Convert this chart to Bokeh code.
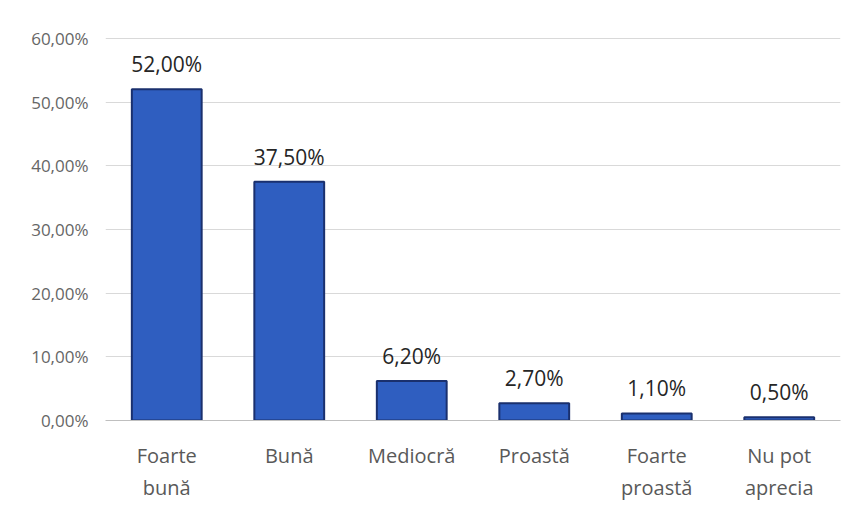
from bokeh.plotting import figure
from bokeh.models import ColumnDataSource, FixedTicker, Range1d, LabelSet
from bokeh.core.properties import value
from bokeh.embed import file_html
from bokeh.resources import INLINE

categories = ["Foarte\nbună", "Bună", "Mediocră", "Proastă", "Foarte\nproastă", "Nu pot\naprecia"]
values = [52.0, 37.5, 6.2, 2.7, 1.1, 0.5]
y_ticks = [0, 10, 20, 30, 40, 50, 60]

FONT = "Open Sans"

xs = list(range(len(categories)))
labels = [f"{v:.2f}".replace(".", ",") + "%" for v in values]
src = ColumnDataSource(dict(x=xs, top=values, label=labels))

p = figure(width=855, height=506, output_backend="svg", toolbar_location=None,
           x_range=Range1d(-0.5, len(categories) - 0.5), y_range=Range1d(0, 60.3),
           min_border_left=105, min_border_right=15, min_border_top=36, min_border_bottom=86)
p.outline_line_color = None
p.background_fill_color = "white"
p.border_fill_color = "white"

p.vbar(x="x", top="top", width=0.57, bottom=0, source=src,
       fill_color="#2F5EC0", line_color="#1A306E", line_width=2)

p.add_layout(LabelSet(x="x", y="top", text="label", source=src,
                      text_align="center", text_baseline="bottom", y_offset=11,
                      text_font=value(FONT), text_font_size="21px", text_color="#262626"))

p.xgrid.grid_line_color = None
p.ygrid.grid_line_color = "#D9D9D9"
p.ygrid.grid_line_width = 1
p.ygrid.ticker = FixedTicker(ticks=y_ticks)

p.yaxis.ticker = FixedTicker(ticks=y_ticks)
p.yaxis.major_label_overrides = {t: f"{t:.2f}".replace(".", ",") + "%" for t in y_ticks}
p.yaxis.axis_line_color = None
p.yaxis.major_tick_line_color = None
p.yaxis.minor_tick_line_color = None
p.yaxis.major_label_text_font = FONT
p.yaxis.major_label_text_font_size = "17px"
p.yaxis.major_label_text_color = "#666666"
p.yaxis.major_label_standoff = 11

p.xaxis.ticker = FixedTicker(ticks=xs)
p.xaxis.major_label_overrides = {x: c for x, c in zip(xs, categories)}
p.xaxis.axis_line_color = "#BFBFBF"
p.xaxis.axis_line_width = 1
p.xaxis.major_tick_line_color = None
p.xaxis.minor_tick_line_color = None
p.xaxis.major_label_text_font = FONT
p.xaxis.major_label_text_font_size = "20px"
p.xaxis.major_label_text_color = "#595959"
p.xaxis.major_label_standoff = 15
p.xaxis.major_label_text_line_height = 1.2

open("out.html", "w").write(file_html(p, INLINE))
